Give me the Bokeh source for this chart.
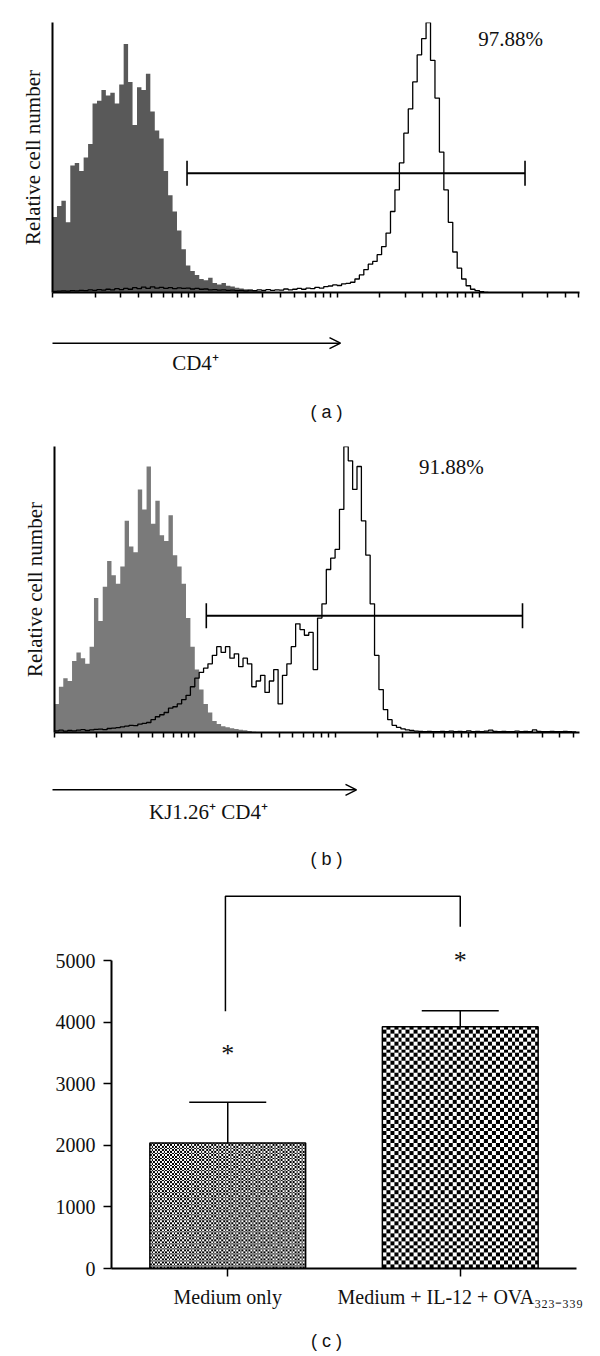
import numpy as np
from bokeh.plotting import figure
from bokeh.layouts import column
from bokeh.models import (Range1d, FixedTicker, Whisker, TeeHead, Arrow, OpenHead,
                          Label, ColumnDataSource, CustomJSTickFormatter)
from bokeh.embed import file_html
from bokeh.resources import INLINE

SERIF = "Liberation Serif"
SANS = "Liberation Sans"
INK = "#111111"

# ---------------- data ----------------
CH_PER_DECADE = 256   # fluorescence channels per log decade
BIN = 8               # channels per histogram bin

# panel (a): isotype (grey, filled) and CD4 (open) histograms, relative cell number 0-100
gray_a = [28, 32, 34, 26, 47, 48, 45, 50, 55, 70, 71, 75, 73, 74, 70, 77, 92, 78, 62, 76,
          75, 81, 67, 60, 57, 45, 36, 30, 23, 16, 10, 8, 6.5, 5, 4.5, 5.5, 3.5, 3, 3.5, 2.5,
          2.2, 1.8, 1.5, 1.2, 1, 0.8, 0.6, 0.5, 0.3, 0]
open_a = [0.4, 0.5, 0.6, 0.5, 0.7, 0.6, 0.8, 0.7, 1.0, 0.8, 1.1, 0.9, 1.2, 1.0, 1.4, 1.1,
          1.5, 1.2, 1.8, 1.4, 2.0, 1.5, 2.1, 1.6, 1.9, 1.5, 1.8, 1.4, 1.7, 1.5, 1.6, 1.3,
          1.5, 1.2, 1.3, 1.0, 1.1, 0.9, 1.0, 0.8, 0.9, 0.7, 0.8, 0.6, 0.9, 0.7, 1.0, 0.8,
          1.1, 0.8, 1.0, 0.9, 1.3, 1.0, 1.2, 1.5, 1.2, 1.6, 1.4, 1.9, 1.6, 2.2, 2.4, 2.8,
          2.6, 3.2, 3.4, 3.8, 5.0, 6.5, 8.5, 10.5, 11.5, 14, 17, 22, 30, 38, 48, 59,
          68, 78, 88, 94, 100, 86, 72, 52, 38, 26, 15, 9, 5, 2.5, 1.2, 0.7, 0.3, 0]
gate_a = {"start": 242, "end": 850, "level": 44.2}      # channels, relative count
pct_a = {"text": "97.88%", "ch": 824, "level": 94}

# panel (b): isotype (grey) and KJ1.26+ CD4+ (open) histograms
gray_b = [10, 16, 19, 18, 25, 28, 26, 24, 30, 47, 39, 51, 60, 55, 52, 58, 74, 65, 63, 85,
          78, 93, 73, 81, 69, 67, 76, 62, 58, 52, 40, 30, 22, 15, 10, 7, 4, 3, 2.2, 1.8,
          1.5, 1.2, 1, 0.8, 0.5, 0.3, 0]
open_b = [0.6, 0.8, 0.5, 0.7, 0.6, 0.8, 1.0, 0.7, 0.9, 1.1, 1.2, 1.0, 1.4, 1.5, 1.7, 2.0,
          2.2, 2.5, 2.4, 2.9, 3.2, 3.5, 4.5, 5.5, 6.2, 7.0, 8.5, 9.0, 10, 11.5, 13, 16,
          19, 21, 22.5, 24, 27, 30, 28, 30, 26, 27.5, 23, 26, 24, 16, 18, 20, 14, 18,
          22, 10, 20, 24, 30, 38, 36, 34, 35, 22, 40, 45, 57, 61, 64, 78, 100, 95, 85, 93,
          74, 62, 45, 27, 15, 8, 4.5, 2.5, 1.8, 1.3, 0.9, 0.7,
          0.5, 0.4, 0.3, 0.4, 0.3, 0.3, 0.4, 0.3, 0.5, 0.3, 0.4, 0.3, 0.6, 0.3, 0.4, 0.3,
          0.5, 0.8, 0.4, 0.3, 0.4, 0.3, 0.3, 0.5, 0.3, 0.4, 0.3, 0.9, 0.4, 0.3, 0.3, 0.4,
          0.3, 0.3, 0.4, 0.3, 0.2]
gate_b = {"start": 277, "end": 854, "level": 40.8}
pct_b = {"text": "91.88%", "ch": 724, "level": 92.9}

log_ticks = [1, 2, 3, 4, 5, 6, 7, 8, 9,
             10, 20, 30, 40, 50, 60, 70, 80, 90,
             100, 200, 300, 400, 500, 600, 700, 800, 900,
             1000, 2000, 3000, 4000, 5000]

# panel (c): IFN-gamma ELISA
groups = ["Medium only", "Medium + IL-12 + OVA\u2083\u2082\u2083\u208b\u2083\u2083\u2089"]
group_x = [0.5, 1.5]
ifn_mean = [2040, 3930]
ifn_sem = [660, 260]
star_level = [3500, 5000]
bracket_x = [0.49, 0.49, 1.5, 1.5]
bracket_y = [4180, 6050, 6050, 5553]
y_ticks_c = [0, 1000, 2000, 3000, 4000, 5000]

PAGE_W = 600
NO_LABELS = CustomJSTickFormatter(code="return ''")


def ch(c):
    return 10 ** (np.asarray(c, dtype=float) / CH_PER_DECADE)


def hist_fig(gray, opn, gray_color, gate, pct, x_end_ch, left, frame_w, frame_h, top, bottom):
    p = figure(frame_width=frame_w, frame_height=frame_h, x_axis_type="log",
               x_range=Range1d(1, float(ch(x_end_ch))), y_range=Range1d(0, 100),
               output_backend="svg", toolbar_location=None, frame_align=False,
               min_border_left=left, min_border_right=PAGE_W - left - frame_w,
               min_border_top=top, min_border_bottom=bottom)
    p.grid.visible = False
    p.outline_line_color = None

    g = list(gray) + [gray[-1]]
    ge = ch(np.arange(len(g)) * BIN)
    p.varea_step(x=ge, y1=np.zeros(len(g)), y2=g, step_mode="after",
                 fill_color=gray_color)
    o = list(opn) + [opn[-1]]
    oe = ch(np.arange(len(o)) * BIN)
    p.step(x=oe, y=o, mode="after", line_color="black", line_width=1.3)

    src = ColumnDataSource(dict(base=[gate["level"]], lo=[float(ch(gate["start"]))],
                                hi=[float(ch(gate["end"]))]))
    p.add_layout(Whisker(source=src, base="base", lower="lo", upper="hi",
                         dimension="width", line_color="black", line_width=2,
                         lower_head=TeeHead(size=25, line_width=1.6, line_color="black"),
                         upper_head=TeeHead(size=25, line_width=1.6, line_color="black")))
    p.add_layout(Label(x=float(ch(pct["ch"])), y=pct["level"], text=pct["text"],
                       text_align="center", text_baseline="middle",
                       text_font=SERIF, text_font_size="21px", text_color=INK))

    xa = p.xaxis[0]
    xa.ticker = FixedTicker(ticks=log_ticks)
    xa.formatter = NO_LABELS
    xa.major_tick_in = 0
    xa.major_tick_out = 5
    xa.major_tick_line_width = 1.5
    xa.minor_tick_in = 0
    xa.minor_tick_out = 0
    xa.axis_line_width = 2
    xa.major_label_standoff = 0

    ya = p.yaxis[0]
    ya.ticker = FixedTicker(ticks=[])
    ya.formatter = NO_LABELS
    ya.major_tick_in = 0
    ya.major_tick_out = 0
    ya.minor_tick_in = 0
    ya.minor_tick_out = 0
    ya.major_label_standoff = 0
    ya.axis_line_width = 2
    ya.axis_label = "Relative cell number"
    ya.axis_label_text_font = SERIF
    ya.axis_label_text_font_size = "21px"
    ya.axis_label_text_font_style = "normal"
    ya.axis_label_text_color = INK
    ya.axis_label_standoff = 8
    return p


def cap_fig(h):
    p = figure(width=PAGE_W, height=h, x_range=Range1d(0, PAGE_W), y_range=Range1d(h, 0),
               output_backend="svg", toolbar_location=None, min_border=0, frame_align=False,
               x_axis_location=None, y_axis_location=None)
    p.grid.visible = False
    p.outline_line_color = None
    return p


# ---------------- panel (a) ----------------
figA = hist_fig(gray_a, open_a, "#595959", gate_a, pct_a, 948,
                left=52, frame_w=527, frame_h=270, top=22, bottom=20)

capA = cap_fig(120)
capA.add_layout(Arrow(x_start=52, y_start=30.7, x_end=340, y_end=30.7, line_width=1.5,
                      end=OpenHead(size=11, line_width=1.5)))
capA.add_layout(Label(x=195, y=50, text="CD4\u207a", text_align="center",
                      text_baseline="middle", text_font=SERIF, text_font_size="21px",
                      text_color=INK))
capA.add_layout(Label(x=326, y=99, text="( a )", text_align="center",
                      text_baseline="middle", text_font=SANS, text_font_size="18px",
                      text_color=INK))

# ---------------- panel (b) ----------------
figB = hist_fig(gray_b, open_b, "#7a7a7a", gate_b, pct_b, 958,
                left=54, frame_w=525, frame_h=286, top=14, bottom=20)

capB = cap_fig(125)
capB.add_layout(Arrow(x_start=52, y_start=37.3, x_end=356, y_end=37.3, line_width=1.5,
                      end=OpenHead(size=11, line_width=1.5)))
capB.add_layout(Label(x=208, y=59, text="KJ1.26\u207a CD4\u207a", text_align="center",
                      text_baseline="middle", text_font=SERIF, text_font_size="21px",
                      text_color=INK))
capB.add_layout(Label(x=326, y=106, text="( b )", text_align="center",
                      text_baseline="middle", text_font=SANS, text_font_size="18px",
                      text_color=INK))

# ---------------- panel (c) ----------------
FRAME_H_C = 382
Y_END_C = FRAME_H_C / (307.7 / 5000)
figC = figure(frame_width=465, frame_height=FRAME_H_C, x_range=Range1d(0, 2),
              y_range=Range1d(0, Y_END_C), output_backend="svg", toolbar_location=None,
              frame_align=False,
              min_border_left=111, min_border_right=PAGE_W - 111 - 465, min_border_top=9,
              min_border_bottom=50)
figC.grid.visible = False
figC.outline_line_color = None

BAR_W = 0.67
BLACK = np.uint32(0xFF000000)
WHITE = np.uint32(0xFFFFFFFF)
texture_cells = [(74, 92), (62, 40)]   # checker rows, cols (fine / coarse pattern)
for gx, m, (nr, nc) in zip(group_x, ifn_mean, texture_cells):
    ii, jj = np.indices((nr, nc))
    img = np.where((ii + jj) % 2 == 0, BLACK, WHITE).astype(np.uint32)
    figC.image_rgba(image=[img], x=gx - BAR_W / 2, y=0, dw=BAR_W, dh=m)
figC.vbar(x=group_x, top=ifn_mean, width=BAR_W, fill_color=None, line_color="black",
          line_width=1.5)

esrc = ColumnDataSource(dict(x=group_x, lo=ifn_mean,
                             hi=[m + s for m, s in zip(ifn_mean, ifn_sem)]))
figC.add_layout(Whisker(source=esrc, base="x", lower="lo", upper="hi", line_width=1.5,
                        line_color="black", lower_head=None,
                        upper_head=TeeHead(size=77, line_width=1.5, line_color="black")))
figC.text(x=group_x, y=star_level, text=["*", "*"], text_align="center",
          text_baseline="middle", text_font={"value": SERIF}, text_font_size="26px",
          text_color=INK)
figC.line(x=bracket_x, y=bracket_y, line_color="black", line_width=1.5)

ya = figC.yaxis[0]
ya.ticker = FixedTicker(ticks=y_ticks_c)
ya.bounds = (0, 5000)
ya.major_tick_in = 0
ya.major_tick_out = 8
ya.major_tick_line_width = 1.5
ya.minor_tick_in = 0
ya.minor_tick_out = 0
ya.axis_line_width = 2
ya.major_label_text_font = SERIF
ya.major_label_text_font_size = "20px"
ya.major_label_text_color = INK
ya.major_label_standoff = 8

xa = figC.xaxis[0]
xa.ticker = FixedTicker(ticks=group_x)
xa.major_label_overrides = {gx: g for gx, g in zip(group_x, groups)}
xa.major_tick_in = 0
xa.major_tick_out = 8
xa.major_tick_line_width = 1.5
xa.minor_tick_in = 0
xa.minor_tick_out = 0
xa.axis_line_width = 2
xa.major_label_text_font = SERIF
xa.major_label_text_font_size = "20px"
xa.major_label_text_color = INK
xa.major_label_standoff = 9

figC.add_layout(Label(x=-0.3355, y=2481, text="IFN-\u03b3 (pg/mL)", angle=np.pi / 2,
                      text_align="center", text_baseline="middle", text_font=SERIF,
                      text_font_size="19px", text_color=INK))

capC = cap_fig(36)
capC.add_layout(Label(x=326, y=22, text="( c )", text_align="center",
                      text_baseline="middle", text_font=SANS, text_font_size="18px",
                      text_color=INK))

layout = column(figA, capA, figB, capB, figC, capC, spacing=0)
open("out.html", "w").write(file_html(layout, INLINE))
